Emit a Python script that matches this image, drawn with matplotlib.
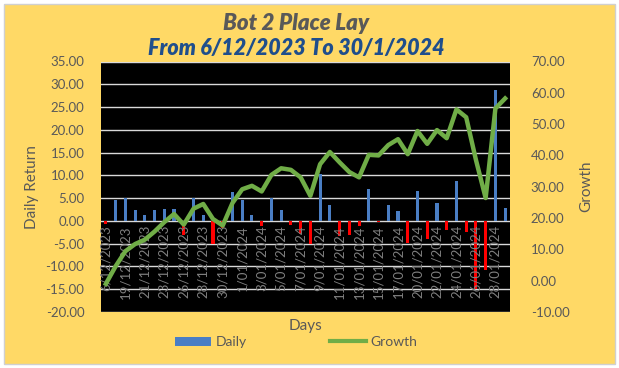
import matplotlib
matplotlib.use("Agg")
import matplotlib.pyplot as plt
from matplotlib.patches import Rectangle, Patch
from matplotlib.lines import Line2D

dates = (["6/12/2023", "18/12/2023"]
         + [f"{d}/12/2023" for d in range(19, 25)]
         + [f"{d}/12/2023" for d in range(26, 32)]
         + [f"{d}/01/2024" for d in range(1, 19)]
         + [f"{d}/01/2024" for d in range(20, 30)])

daily = [-0.75, 4.7, 5.0, 2.5, 1.4, 2.5, 2.7, 2.7, -3.2, 5.1,
         1.2, -5.0, -1.5, 6.4, 4.7, 1.2, -1.2, 5.0, 2.3, -0.8,
         -2.8, -5.1, 10.2, 3.4, -3.4, -3.2, -1.2, 7.1, -0.3, 3.6,
         2.1, -4.75, 6.65, -3.9, 4.0, -2.1, 8.85, -2.5, -14.9, -10.8,
         28.8, 2.9]

growth = [-1.0, 4.6, 9.4, 11.7, 13.1, 15.7, 18.7, 21.3, 17.9, 23.0,
          24.5, 19.7, 17.6, 24.8, 29.2, 30.3, 28.5, 33.8, 35.9, 35.4,
          33.0, 27.1, 37.2, 41.1, 37.8, 34.7, 33.0, 40.2, 40.0, 43.3,
          45.2, 40.4, 47.8, 43.7, 48.1, 45.5, 54.7, 52.2, 38.6, 26.4,
          55.0, 58.2]

left_ticks = [-20, -15, -10, -5, 0, 5, 10, 15, 20, 25, 30, 35]
right_ticks = [-10, 0, 10, 20, 30, 40, 50, 60, 70]

plt.rcParams['font.family'] = ['Lato', 'DejaVu Sans']

W, H = 619, 368
fig = plt.figure(figsize=(W / 100, H / 100), dpi=100)
fig.patch.set_facecolor("white")
fig.patches.append(Rectangle((4 / W, 4 / H), 611 / W, 360 / H, transform=fig.transFigure,
                             facecolor="#FFD966", edgecolor="#D0D0D0", lw=1, zorder=-10))

ax = fig.add_axes([101 / W, 1 - 312 / H, 409 / W, 250.5 / H])
ax.set_zorder(1)
ax.set_facecolor("black")
x = list(range(len(dates)))
colors = ["#4A7EC4" if v >= 0 else "#FF0000" for v in daily]
ax.bar(x, daily, width=0.32, color=colors, zorder=3)
ax.set_ylim(-20, 35)
ax.set_xlim(-0.5, len(dates) - 0.5)
ax.set_yticks(left_ticks)
ax.set_yticklabels([f"{t:.2f}" for t in left_ticks], color="#595959", fontsize=9.5)
ax.yaxis.grid(True, color="#D9D9D9", lw=1, zorder=1)
ax.set_axisbelow(True)
ax.set_xticks([])
ax.tick_params(axis="y", length=0, pad=12)
for s in ax.spines.values():
    s.set_visible(False)
ax.set_ylabel("Daily Return", color="#595959", fontsize=11, labelpad=5)

for i in range(0, len(dates), 2):
    ax.text(i, -0.9, dates[i], rotation=90, ha="center", va="top",
            color="#7F7F7F", fontsize=9.5, zorder=4)

ax2 = ax.twinx()
ax2.set_zorder(2)
ax2.patch.set_visible(False)
ax2.plot(x, growth, color="#70AD47", lw=3.2, zorder=5, solid_joinstyle="round")
ax2.set_ylim(-10, 70)
ax2.set_yticks(right_ticks)
ax2.set_yticklabels([f"{t:.2f}" for t in right_ticks], color="#595959", fontsize=9.5)
ax2.tick_params(axis="y", length=0, pad=15)
for s in ax2.spines.values():
    s.set_visible(False)
ax2.set_ylabel("Growth", color="#595959", fontsize=11, labelpad=7)

fig.text(296 / W, 1 - 23 / H, "Bot 2 Place Lay", ha="center", va="center",
         fontsize=16, fontweight="heavy", fontstyle="italic", color="#595959")
fig.text(296 / W, 1 - 49 / H, "From 6/12/2023 To 30/1/2024", ha="center", va="center",
         fontsize=15.5, fontweight="heavy", fontstyle="italic", color="#1F4E8C")

fig.text(305 / W, 1 - 326 / H, "Days", ha="center", va="center", fontsize=11, color="#595959")

handles = [Patch(facecolor="#4A7EC4", edgecolor="none"),
           Line2D([0], [0], color="#70AD47", lw=3)]
leg = fig.legend(handles, ["Daily", "Growth"], loc="center", bbox_to_anchor=(296 / W, 1 - 342 / H),
                 ncol=2, frameon=False, fontsize=10, handlelength=2.6, handleheight=0.6,
                 columnspacing=6, handletextpad=0.3)
for t in leg.get_texts():
    t.set_color("#595959")

fig.savefig("out.png", dpi=100, facecolor=fig.get_facecolor())
